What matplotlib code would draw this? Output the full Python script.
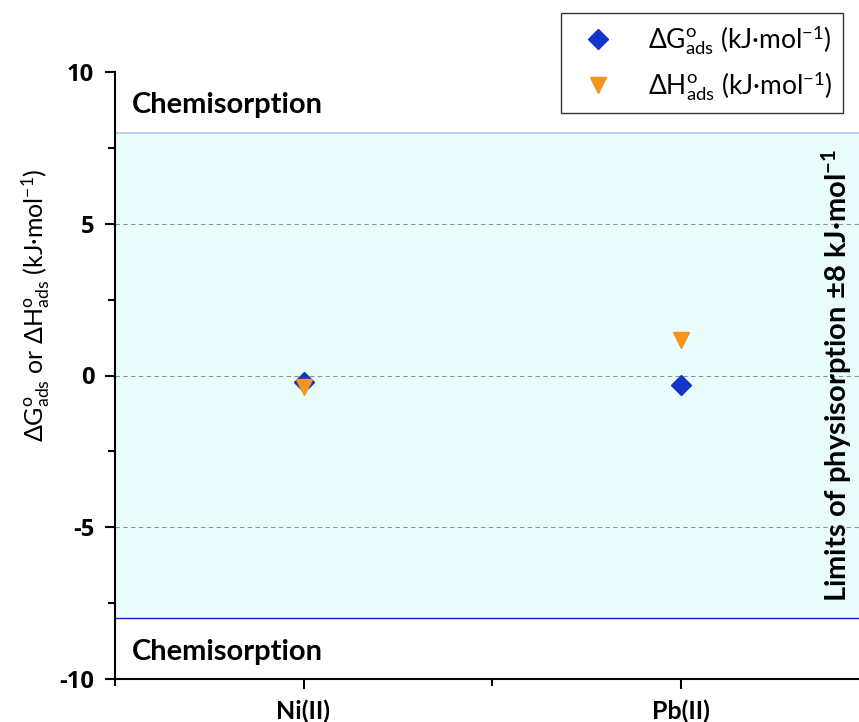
import matplotlib
matplotlib.use("Agg")
import matplotlib.pyplot as plt
from matplotlib.ticker import FixedLocator

# data
ions = ["Ni(II)", "Pb(II)"]
x_pos = [1, 2]
dG_ads = [-0.22, -0.31]
dH_ads = [-0.37, 1.16]
physi_limit = 8
y_ticks = [-10, -5, 0, 5, 10]
y_minor = [-7.5, -2.5, 2.5, 7.5]

plt.rcParams["font.family"] = ["Lato", "DejaVu Sans"]
plt.rcParams["mathtext.fontset"] = "custom"
plt.rcParams["mathtext.rm"] = "Lato"
plt.rcParams["mathtext.it"] = "Lato:italic"
plt.rcParams["mathtext.bf"] = "Lato:bold"
plt.rcParams["axes.unicode_minus"] = False

fig = plt.figure(figsize=(8.59, 7.22), dpi=100)
ax = fig.add_axes([115 / 859, 43 / 722, 754 / 859, 607 / 722])

ax.set_xlim(0.5, 2.5)
ax.set_ylim(-10, 10)

# physisorption band
ax.axhspan(-physi_limit, physi_limit, color="#e8fcfc", zorder=0)
ax.axhline(physi_limit, color="#b4c4f2", lw=1.2, zorder=1)
ax.axhline(-physi_limit, color="#2020c0", lw=1.0, zorder=1)
for yv in [-5, 0, 5]:
    ax.axhline(yv, color="#909090", lw=0.8, ls=(0, (4, 3)), zorder=1)

ax.plot(x_pos, dG_ads, ls="none", marker="D", ms=10, color="#1534c8",
        mec="#1534c8", zorder=3,
        label=r"ΔG$^{\mathrm{o}}_{\mathrm{ads}}$ (kJ·mol$^{-1}$)")
ax.plot(x_pos, dH_ads, ls="none", marker="v", ms=12, color="#f7931e",
        mec="#f7931e", zorder=4,
        label=r"ΔH$^{\mathrm{o}}_{\mathrm{ads}}$ (kJ·mol$^{-1}$)")

ax.text(0.545, 8.9, "Chemisorption", fontsize=21, fontweight="bold",
        va="center", ha="left")
ax.text(0.545, -9.1, "Chemisorption", fontsize=21, fontweight="bold",
        va="center", ha="left")
ax.text(2.415, 0, "Limits of physisorption ±8 kJ·mol$^{\\mathbf{-1}}$",
        rotation=90, fontsize=21, fontweight="bold", va="center", ha="center")

ax.set_xticks(x_pos)
ax.set_xticklabels(ions, fontsize=18, fontweight="bold")
ax.xaxis.set_minor_locator(FixedLocator([0.5, 1.5, 2.5]))
ax.set_yticks(y_ticks)
ax.set_yticklabels([str(v) for v in y_ticks], fontsize=17, fontweight="bold",
                   family="Open Sans")
ax.yaxis.set_minor_locator(FixedLocator(y_minor))
ax.tick_params(which="major", direction="out", length=7, width=1.5)
ax.tick_params(which="minor", direction="out", length=5, width=1.5)
ax.tick_params(axis="x", pad=8)
ax.tick_params(axis="y", pad=8)

ax.set_ylabel(r"ΔG$^{\mathrm{o}}_{\mathrm{ads}}$ or ΔH$^{\mathrm{o}}_{\mathrm{ads}}$ (kJ·mol$^{-1}$)",
              fontsize=18)
ax.yaxis.set_label_coords(-0.084, 0.615)

for side in ["top", "right"]:
    ax.spines[side].set_visible(False)
for side in ["left", "bottom"]:
    ax.spines[side].set_linewidth(1.5)

leg = fig.legend(loc="upper right", bbox_to_anchor=(843 / 859, 1 - 13 / 722),
                 bbox_transform=fig.transFigure, fontsize=19, frameon=True,
                 fancybox=False, edgecolor="black", handletextpad=0.9,
                 borderpad=0.4, labelspacing=0.45, handlelength=2.0,
                 borderaxespad=0)
leg.get_frame().set_linewidth(1.0)

fig.savefig("out.png", dpi=100)
